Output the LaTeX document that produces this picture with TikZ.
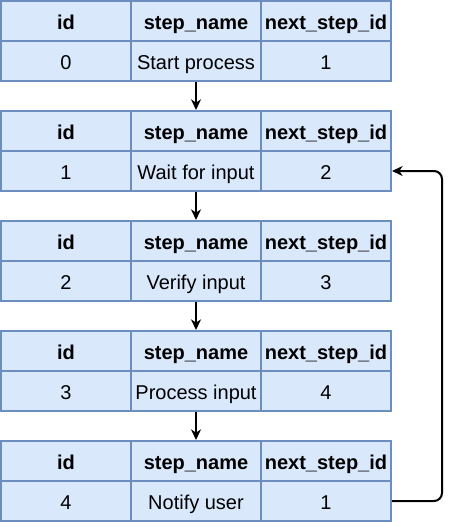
\documentclass[tikz,border=0pt]{standalone}
\usepackage{fontspec}
\setmainfont{Liberation Sans}
\usetikzlibrary{arrows.meta}
\definecolor{cellfill}{HTML}{DAE8FC}
\definecolor{celldraw}{HTML}{6C8EBF}
\begin{document}
\begin{tikzpicture}[x=0.75pt,y=-0.75pt,
  cell/.style={draw=celldraw,fill=cellfill,line width=1.5pt,minimum width=97.5pt,minimum height=30pt,inner sep=0pt,text height=12.2pt,text depth=0pt,font=\fontsize{15}{18}\selectfont},
  headcell/.style={cell,font=\fontsize{15}{18}\selectfont\bfseries},
  link/.style={draw=black,line width=1.5pt,-{Stealth[length=8pt,width=7.5pt,inset=2.5pt]}}]
\useasboundingbox (0,0) rectangle (450,522);
\foreach \k/\a/\b/\c in {0/0/Start process/1,1/1/Wait for input/2,2/2/Verify input/3,3/3/Process input/4,4/4/Notify user/1}{
  \node[headcell] (t\k h1) at (66,21+110*\k) {id};
  \node[headcell] (t\k h2) at (196,21+110*\k) {step\_name};
  \node[headcell] (t\k h3) at (326,21+110*\k) {next\_step\_id};
  \node[cell] (t\k d1) at (66,61+110*\k) {\a};
  \node[cell] (t\k d2) at (196,61+110*\k) {\b};
  \node[cell] (t\k d3) at (326,61+110*\k) {\c};
}
\draw[link] (t0d2.south) -- (t1h2.north);
\draw[link] (t1d2.south) -- (t2h2.north);
\draw[link] (t2d2.south) -- (t3h2.north);
\draw[link] (t3d2.south) -- (t4h2.north);
\draw[link,rounded corners=6pt] (t4d3.east) -- ++(37.5pt,0) |- (t1d3.east);
\end{tikzpicture}
\end{document}
